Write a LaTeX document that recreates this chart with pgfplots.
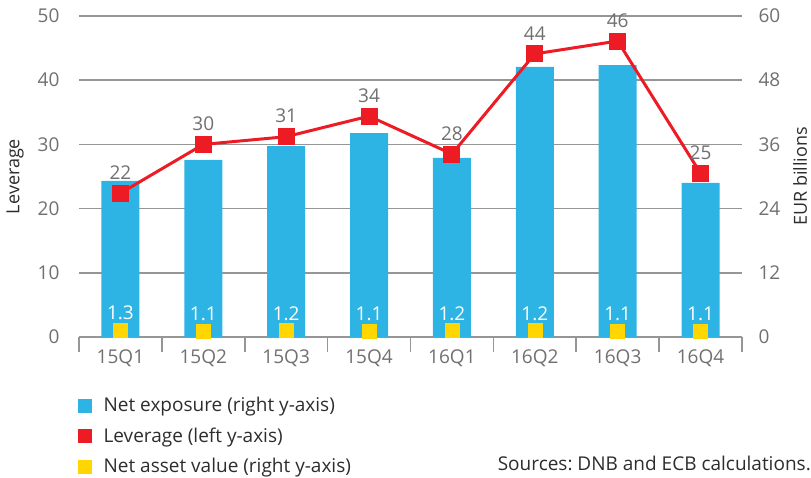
\documentclass[border=0pt]{standalone}
\usepackage{fontspec}
\setmainfont{Open Sans}
\usepackage{pgfplots}
\usepackage{pgfplotstable}
\pgfplotsset{compat=1.18}
\definecolor{barblue}{RGB}{45,180,228}
\definecolor{levred}{RGB}{237,28,36}
\definecolor{navyellow}{RGB}{255,214,0}
\definecolor{gridgray}{RGB}{150,150,150}
\definecolor{tickgray}{RGB}{112,112,112}
\definecolor{textdark}{RGB}{45,45,45}

\pgfplotstableread{
x exposure
0 29.2
1 33.1
2 35.7
3 38.1
4 33.5
5 50.5
6 50.8
7 28.8
}\exposuretable

\pgfplotstableread{
x nav label
0 1.3 1.3
1 1.1 1.1
2 1.2 1.2
3 1.1 1.1
4 1.2 1.2
5 1.2 1.2
6 1.1 1.1
7 1.1 1.1
}\navtable

\pgfplotstableread{
x lev label
0 22.4 22
1 30.0 30
2 31.2 31
3 34.4 34
4 28.5 28
5 44.1 44
6 46.1 46
7 25.5 25
}\levtable

\begin{document}
\frenchspacing
\fontsize{19}{22}\selectfont
\begin{tikzpicture}
\useasboundingbox (0,0) rectangle (811pt,477pt);
% Right axis: net exposure bars and NAV markers
\begin{axis}[
  at={(79pt,140pt)}, anchor=south west,
  width=663pt, height=321pt, scale only axis,
  xmin=-0.5, xmax=7.5, ymin=0, ymax=60,
  clip=false,
  /pgf/number format/assume math mode=true,
  axis x line*=bottom, axis y line*=right,
  y axis line style={draw=none},
  x axis line style={gridgray, line width=1.5pt, -},
  ymajorgrids, grid style={gridgray, line width=1.5pt},
  ytick={0,12,...,60},
  xtick={0,...,7},
  xticklabels={15Q1,15Q2,15Q3,15Q4,16Q1,16Q2,16Q3,16Q4},
  minor xtick={-0.5,0.5,...,7.5},
  major tick length=0pt, minor tick length=15pt,
  tick align=outside,
  minor tick style={gridgray, line width=1.5pt},
  ticklabel style={font=\fontsize{19}{22}\selectfont, text=tickgray},
  xticklabel style={yshift=-6pt},
  yticklabel style={xshift=10pt},
]
\addplot[ybar, bar width=38pt, fill=barblue, draw=none] table[x=x, y=exposure] {\exposuretable};
\addplot[only marks, mark=square*, mark size=7pt, color=navyellow,
  nodes near coords, point meta=explicit symbolic,
  nodes near coords style={text=white, anchor=south, yshift=3.5pt, font=\fontsize{19}{22}\selectfont}]
  table[x=x, y=nav, meta=label] {\navtable};
\end{axis}
% Left axis: leverage line
\begin{axis}[
  at={(79pt,140pt)}, anchor=south west,
  width=663pt, height=321pt, scale only axis,
  xmin=-0.5, xmax=7.5, ymin=0, ymax=50,
  clip=false,
  /pgf/number format/assume math mode=true,
  axis x line=none, axis y line*=left,
  y axis line style={draw=none},
  ytick={0,10,...,50},
  major tick length=0pt,
  ticklabel style={font=\fontsize{19}{22}\selectfont, text=tickgray},
  yticklabel style={xshift=-13pt},
  legend style={at={(0,0)}, anchor=north west, xshift=-1pt, yshift=-58pt,
    draw=none, fill=none, inner sep=0pt, row sep=9pt,
    /tikz/every odd column/.append style={column sep=10pt},
    font=\fontsize{19}{22}\selectfont, text=textdark},
  legend cell align=left,
]
\addlegendimage{legend image code/.code={\fill[barblue] (0pt,-6.5pt) rectangle (13pt,6.5pt);}}
\addlegendentry{Net exposure (right y-axis)}
\addlegendimage{legend image code/.code={\fill[levred] (0pt,-6.5pt) rectangle (13pt,6.5pt);}}
\addlegendentry{Leverage (left y-axis)}
\addlegendimage{legend image code/.code={\fill[navyellow] (0pt,-6.5pt) rectangle (13pt,6.5pt);}}
\addlegendentry{Net asset value (right y-axis)}
\addplot[levred, line width=3pt, mark=square*, mark size=7pt, forget plot,
  nodes near coords, point meta=explicit symbolic,
  nodes near coords style={text=tickgray, anchor=south, yshift=6pt, font=\fontsize{19}{22}\selectfont}]
  table[x=x, y=lev, meta=label] {\levtable};
\end{axis}
\node[rotate=90, anchor=center, text=textdark, font=\fontsize{18}{22}\selectfont] at (15pt,300.5pt) {Leverage};
\node[rotate=90, anchor=center, text=textdark, font=\fontsize{18}{22}\selectfont] at (800pt,300.5pt) {EUR billions};
\node[anchor=base east, inner sep=0pt, text=textdark] at (811pt,7pt) {Sources: DNB and ECB calculations.};
\end{tikzpicture}
\end{document}
